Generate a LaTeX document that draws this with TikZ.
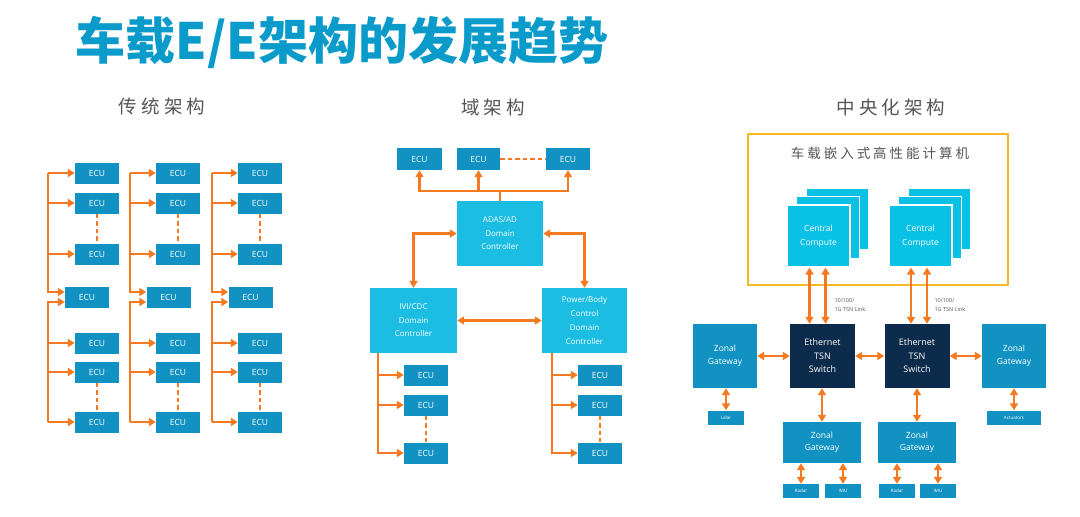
\documentclass[tikz,border=0pt]{standalone}
\usepackage{fontspec}
\setmainfont{Open Sans}
\newfontfamily\cjk{Noto Sans CJK SC}
\newfontfamily\cjkwide{Noto Sans CJK SC}[LetterSpace=22]
\usetikzlibrary{positioning,arrows.meta}

\definecolor{ecublue}{HTML}{1192C2}
\definecolor{domcyan}{HTML}{1BBDE3}
\definecolor{cpucyan}{HTML}{08C1E4}
\definecolor{linkorange}{HTML}{F47920}
\definecolor{tsnnavy}{HTML}{0D2B4B}
\definecolor{titleblue}{HTML}{0B9BCB}
\definecolor{hpcyellow}{HTML}{F8B823}
\definecolor{labelgray}{HTML}{555555}

\begin{document}
\begin{tikzpicture}[x=1pt, y=-1pt,
  ecu/.style={fill=ecublue, minimum width=44pt, minimum height=21pt, inner sep=0pt, text=white, font=\fontsize{8.5}{9}\selectfont},
  dom/.style={fill=domcyan, minimum width=86pt, minimum height=65pt, inner sep=0pt, text=white, align=center, font=\fontsize{8}{13.5}\selectfont},
  cpu/.style={fill=cpucyan, draw=white, line width=1.2pt, minimum width=63pt, minimum height=62pt, inner sep=0pt, text=white, align=center, font=\fontsize{8.5}{14}\selectfont},
  tsn/.style={fill=tsnnavy, minimum width=65pt, minimum height=64pt, inner sep=0pt, text=white, align=center, font=\fontsize{9}{13.5}\selectfont},
  zonal/.style={fill=ecublue, minimum width=64pt, minimum height=64pt, inner sep=0pt, text=white, align=center, font=\fontsize{8.5}{12.5}\selectfont},
  sensor/.style={fill=ecublue, minimum width=36pt, minimum height=14pt, inner sep=0pt, text=white, font=\fontsize{4.5}{5}\selectfont},
  heading/.style={text=labelgray, font=\cjkwide\fontsize{18.5}{20}\selectfont},
  olink/.style={draw=linkorange, line width=2.7pt, -{Triangle[length=7pt,width=8pt]}},
  obi/.style={draw=linkorange, line width=2.7pt, {Triangle[length=7pt,width=8pt]}-{Triangle[length=7pt,width=8pt]}},
  oline/.style={draw=linkorange, line width=2.7pt},
  odash/.style={draw=linkorange, line width=2.4pt, dash pattern=on 4.5pt off 3pt}]

  \useasboundingbox[fill=white] (0,0) rectangle (1080,517);

  % Titel
  \node[text=titleblue, font=\cjk\bfseries\fontsize{50}{52}\selectfont] (title) at (342,42) {车载E/E架构的发展趋势};

  % Ueberschriften der drei Varianten
  \node[heading] (hdA) at (162,106) {传统架构};
  \node[heading] (hdB) at (493,107) {域架构};
  \node[heading] (hdC) at (891,107) {中央化架构};

  % Traditionelle Architektur: drei Spalten mit je einem Bus
  \foreach \c/\t/\e/\m in {1/48/97/87, 2/130/178/168.5, 3/212/260/250.5}{
    \coordinate (trk\c) at (\t,0);
    \node[ecu] (L\c-1) at (\e,173) {ECU};
    \node[ecu] (L\c-2) at (\e,203) {ECU};
    \node[ecu] (L\c-3) at (\e,254) {ECU};
    \node[ecu] (L\c-m) at (\m,297) {ECU};
    \node[ecu] (L\c-5) at (\e,343) {ECU};
    \node[ecu] (L\c-6) at (\e,372) {ECU};
    \node[ecu] (L\c-7) at (\e,422) {ECU};
    % obere Gruppe
    \draw[olink] (L\c-1.west -| trk\c) |- ([yshift=5pt]L\c-m.west);
    \draw[olink] (L\c-1.west -| trk\c) -- (L\c-1.west);
    \draw[olink] (L\c-2.west -| trk\c) -- (L\c-2.west);
    \draw[olink] (L\c-3.west -| trk\c) -- (L\c-3.west);
    \draw[odash] (L\c-2) -- (L\c-3);
    % untere Gruppe
    \draw[olink] (L\c-7.west -| trk\c) |- ([yshift=-5pt]L\c-m.west);
    \draw[olink] (L\c-5.west -| trk\c) -- (L\c-5.west);
    \draw[olink] (L\c-6.west -| trk\c) -- (L\c-6.west);
    \draw[olink] (L\c-7.west -| trk\c) -- (L\c-7.west);
    \draw[odash] (L\c-6) -- (L\c-7);
  }

  % Domaenenarchitektur
  \node[ecu, minimum width=45pt, minimum height=22pt] (DE1) at (419.5,159) {ECU};
  \node[ecu, minimum width=43pt, minimum height=22pt] (DE2) at (478.5,159) {ECU};
  \node[ecu, minimum width=44pt, minimum height=22pt] (DE3) at (568,159) {ECU};
  \draw[odash] (DE2) -- (DE3);

  \node[dom] (ADAS) at (500,233.5) {ADAS/AD\\Domain\\Controller};
  \node[dom, minimum width=87pt] (IVI) at (413.5,320.5) {IVI/CDC\\Domain\\Controller};
  \node[dom, minimum width=85pt, font=\fontsize{8}{13.7}\selectfont] (PWR) at (584.5,320.5) {Power/Body\\Control\\Domain\\Controller};

  \coordinate (bus) at (500,191);
  \draw[oline] (ADAS.north) -- (bus);
  \draw[olink] (bus) -| (DE1.south);
  \draw[olink] (bus) -| (DE2.south);
  \draw[olink] (bus) -| (DE3.south);
  \draw[obi] (ADAS.west) -| (IVI.north);
  \draw[obi] (ADAS.east) -| (PWR.north);
  \draw[obi] (IVI.east) -- (PWR.west);

  \node[ecu] (IE1) at (426,375) {ECU};
  \node[ecu] (IE2) at (426,405) {ECU};
  \node[ecu] (IE3) at (426,453) {ECU};
  \coordinate (trkI) at (378,0);
  \draw[olink] (IVI.south -| trkI) |- (IE3.west);
  \draw[olink] (IE1.west -| trkI) -- (IE1.west);
  \draw[olink] (IE2.west -| trkI) -- (IE2.west);
  \draw[odash] (IE2) -- (IE3);

  \node[ecu] (PE1) at (600,375) {ECU};
  \node[ecu] (PE2) at (600,405) {ECU};
  \node[ecu] (PE3) at (600,453) {ECU};
  \coordinate (trkP) at (552,0);
  \draw[olink] (PWR.south -| trkP) |- (PE3.west);
  \draw[olink] (PE1.west -| trkP) -- (PE1.west);
  \draw[olink] (PE2.west -| trkP) -- (PE2.west);
  \draw[odash] (PE2) -- (PE3);

  % Zentralisierte Architektur
  \node[draw=hpcyellow, line width=2.5pt, minimum width=260pt, minimum height=151pt, inner sep=0pt] (HPC) at (878,209.5) {};
  \node[text=labelgray, font=\cjkwide\fontsize{13.5}{15}\selectfont] (hpclabel) at (880,153) {车载嵌入式高性能计算机};

  \node[cpu] (CC1c) at (837.5,219) {};
  \node[cpu] (CC1b) at (828,227.5) {};
  \node[cpu] (CC1) at (818.5,236) {Central\\Compute};
  \node[cpu] (CC2c) at (939.5,219) {};
  \node[cpu] (CC2b) at (930,227.5) {};
  \node[cpu] (CC2) at (920.5,236) {Central\\Compute};

  \node[tsn] (SW1) at (822.5,356) {Ethernet\\TSN\\Switch};
  \node[tsn] (SW2) at (917,356) {Ethernet\\TSN\\Switch};
  \node[zonal] (ZL) at (725,356) {Zonal\\Gateway};
  \node[zonal] (ZR) at (1014,356) {Zonal\\Gateway};

  \draw[obi] ([xshift=-13pt]SW1.north) -- ([xshift=-13pt]SW1.north |- CC1.south);
  \draw[obi] ([xshift=3pt]SW1.north) -- ([xshift=3pt]SW1.north |- CC1.south);
  \draw[obi] ([xshift=-6pt]SW2.north) -- ([xshift=-6pt]SW2.north |- CC2.south);
  \draw[obi] ([xshift=10pt]SW2.north) -- ([xshift=10pt]SW2.north |- CC2.south);
  \node[anchor=west, align=left, text=labelgray, font=\fontsize{5.5}{9}\selectfont] (lk1) at (831,305) {10/100/\\1G TSN Link.};
  \node[anchor=west, align=left, text=labelgray, font=\fontsize{5.5}{9}\selectfont] (lk2) at (931,305) {10/100/\\1G TSN Link.};

  \draw[obi] (ZL.east) -- (SW1.west);
  \draw[obi] (SW1.east) -- (SW2.west);
  \draw[obi] (SW2.east) -- (ZR.west);

  \node[sensor] (lidar) at (726,417.5) {Lidar};
  \node[sensor, minimum width=54pt] (act) at (1014,417.5) {Actuators};
  \draw[obi] (ZL.south -| lidar) -- (lidar.north);
  \draw[obi] (ZR.south) -- (act.north);

  \node[zonal, minimum width=78pt, minimum height=41pt] (ZB1) at (822,442.5) {Zonal\\Gateway};
  \node[zonal, minimum width=78pt, minimum height=41pt] (ZB2) at (917,442.5) {Zonal\\Gateway};
  \draw[obi] (SW1.south -| ZB1) -- (ZB1.north);
  \draw[obi] (SW2.south) -- (ZB2.north);

  \node[sensor] (rad1) at (801,491) {Radar};
  \node[sensor] (imu1) at (843,491) {IMU};
  \node[sensor] (rad2) at (897,491) {Radar};
  \node[sensor] (imu2) at (938,491) {IMU};
  \draw[obi] (ZB1.south -| rad1) -- (rad1.north);
  \draw[obi] (ZB1.south -| imu1) -- (imu1.north);
  \draw[obi] (ZB2.south -| rad2) -- (rad2.north);
  \draw[obi] (ZB2.south -| imu2) -- (imu2.north);

\end{tikzpicture}
\end{document}
